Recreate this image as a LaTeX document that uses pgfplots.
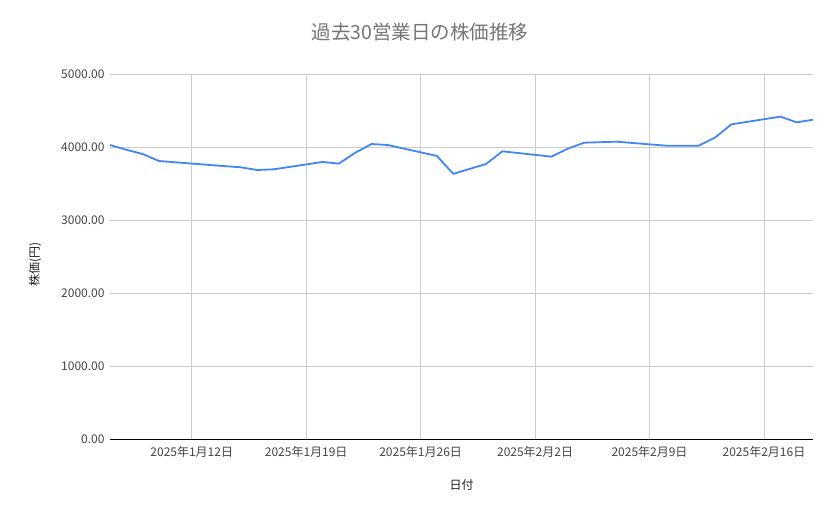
\documentclass[border=0pt]{standalone}
\usepackage{fontspec}
\setmainfont{Noto Sans CJK JP}
\usepackage{pgfplots}
\pgfplotsset{compat=1.18}

\definecolor{lineblue}{HTML}{4285F4}
\definecolor{gridgray}{HTML}{CCCCCC}
\definecolor{ticktext}{HTML}{444444}
\definecolor{labeltext}{HTML}{222222}
\definecolor{titletext}{HTML}{757575}

% day numbers counted from 1 Jan 2025 (Feb 1 = 32)
\pgfplotstableread{
day price
7   4027
8   3962
9   3904
10  3808
14  3738
15  3722
16  3685
17  3694
20  3795
21  3772
22  3922
23  4041
24  4027
27  3877
28  3632
29  3700
30  3767
31  3941
34  3868
35  3977
36  4059
37  4066
38  4073
41  4018
43  4018
44  4128
45  4310
48  4416
49  4338
50  4374
}\pricedata

\begin{document}
\begin{tikzpicture}
\path[use as bounding box] (-110bp,-80bp) rectangle (729bp,439bp);
\begin{axis}[
    scale only axis,
    width=703bp, height=365bp,
    xmin=7, xmax=50,
    ymin=0, ymax=5000,
    xtick={12,19,26,33,40,47},
    xticklabels={2025年1月12日,2025年1月19日,2025年1月26日,2025年2月2日,2025年2月9日,2025年2月16日},
    ytick={0,1000,2000,3000,4000,5000},
    yticklabel={\pgfmathprintnumber[fixed,fixed zerofill,precision=2,1000 sep={}]{\tick}},
    /pgf/number format/assume math mode=true,
    ticklabel style={font=\fontsize{12bp}{14bp}\selectfont, text=ticktext},
    major tick length=0pt,
    xticklabel style={yshift=-4bp},
    yticklabel style={xshift=-2bp},
    grid=major,
    major grid style={gridgray, line width=0.8bp},
    axis x line*=bottom,
    axis y line*=left,
    x axis line style={black, line width=1bp, -},
    y axis line style={draw=none},
    title={過去30営業日の株価推移},
    title style={at={(axis description cs:0.441,1.099)}, anchor=center,
                 font=\fontsize{19.5bp}{22bp}\selectfont, text=titletext},
    xlabel={日付},
    xlabel style={at={(axis description cs:0.5,-0.126)}, anchor=center,
                  font=\fontsize{12bp}{14bp}\selectfont, text=labeltext},
    ylabel={株価(円)},
    ylabel style={at={(axis description cs:-0.1067,0.477)}, anchor=center,
                  font=\fontsize{12bp}{14bp}\selectfont, text=labeltext},
    clip=false,
]
\addplot[lineblue, line width=1.8bp, line join=round, no markers] table[x=day, y=price] {\pricedata};
\end{axis}
\end{tikzpicture}
\end{document}
